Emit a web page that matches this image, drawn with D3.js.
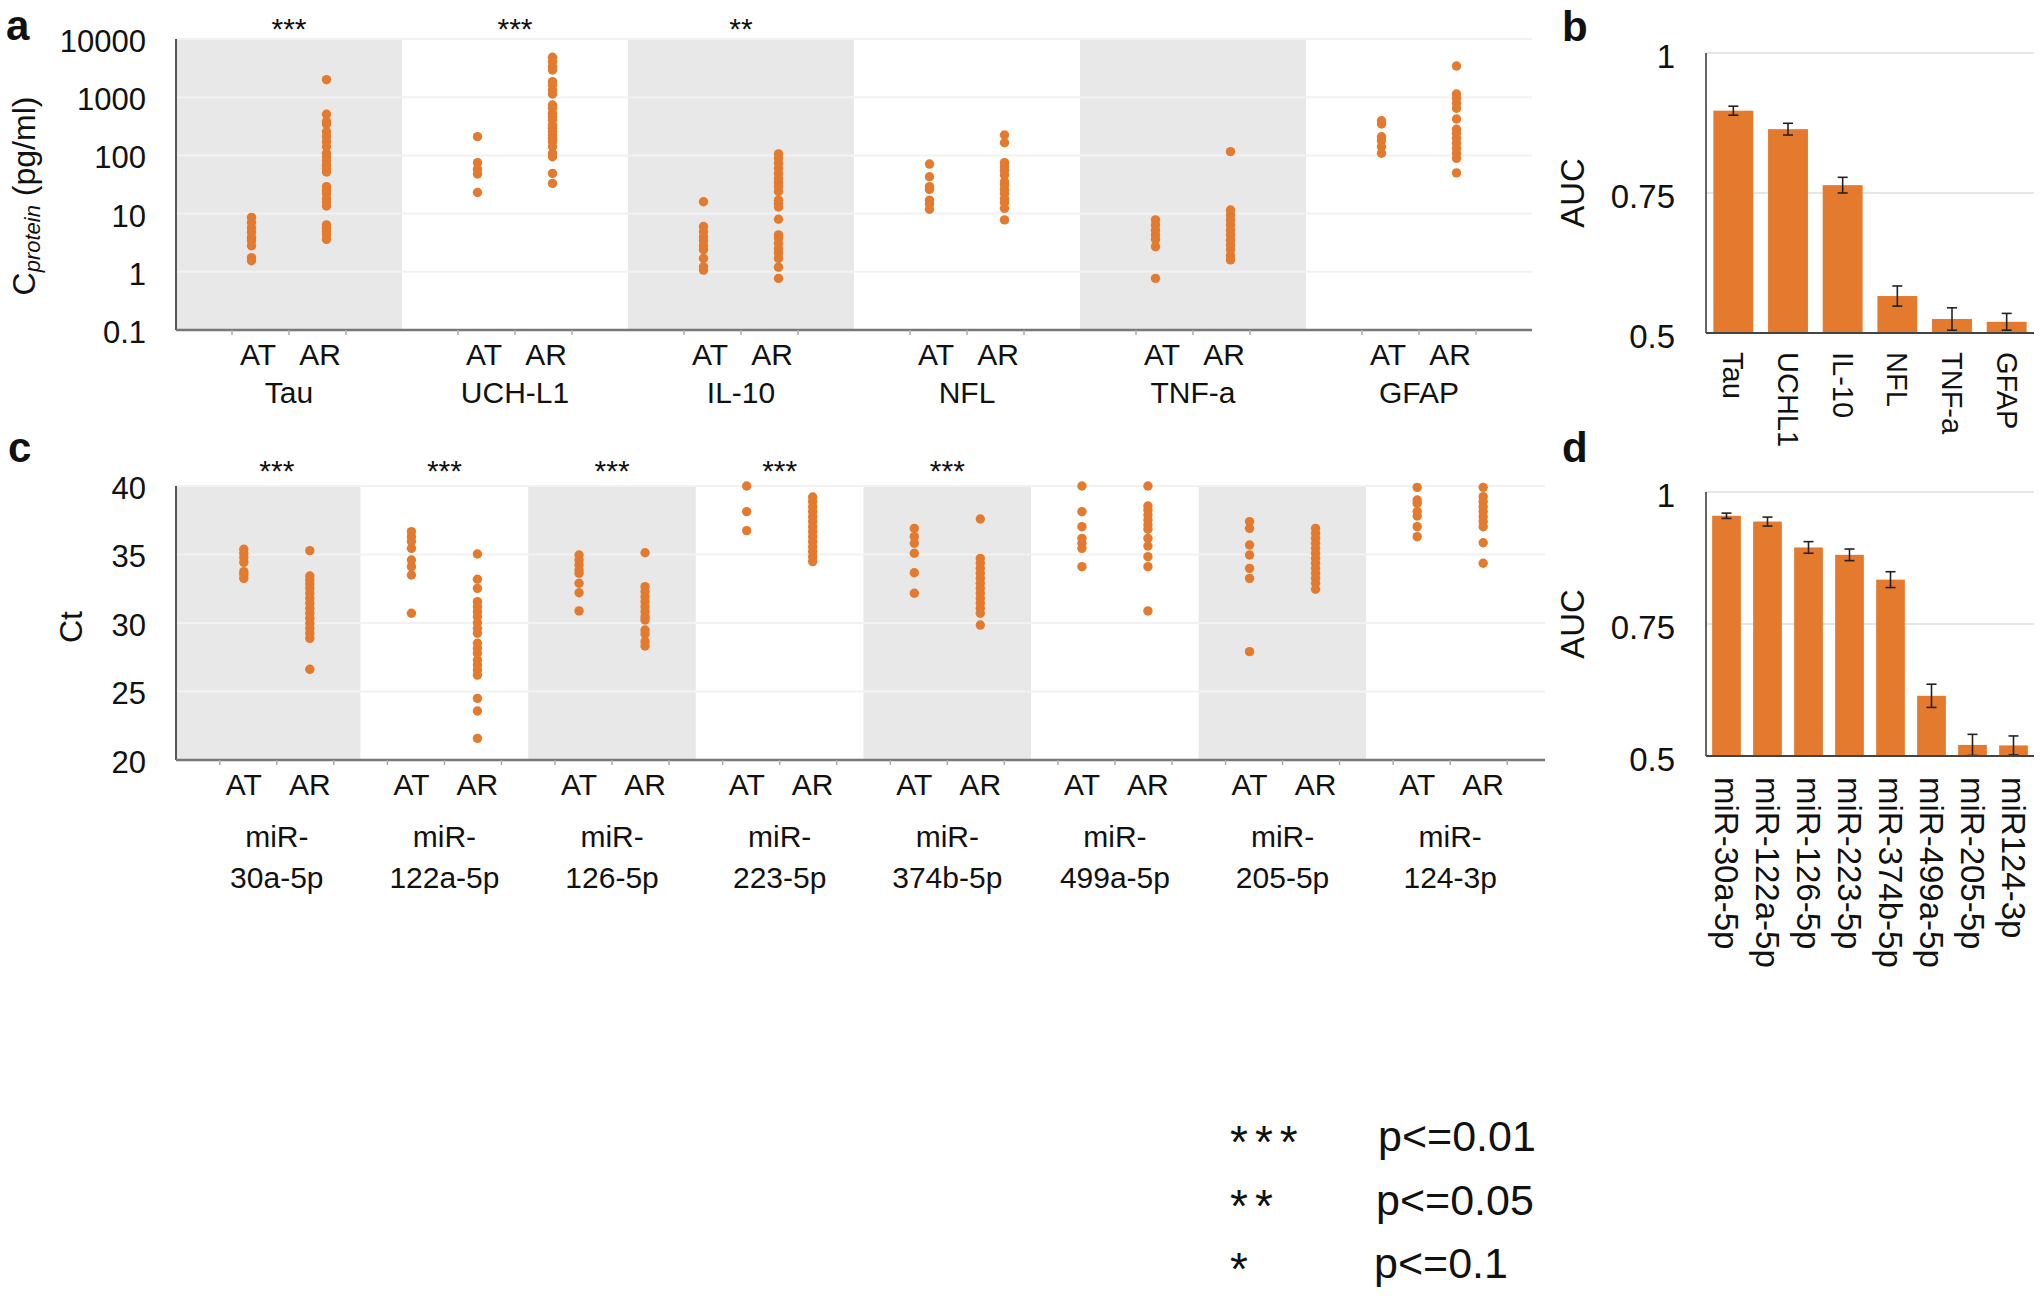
<!DOCTYPE html>
<html>
<head>
<meta charset="utf-8">
<script src="https://cdn.jsdelivr.net/npm/d3@7"></script>
<style>
  body { margin: 0; background: #fff; }
  text { font-family: "Liberation Sans", Arial, Helvetica, sans-serif; fill: #111; }
</style>
</head>
<body>
<div id="vis"></div>
<script>
// ---- panel a: protein concentrations (pg/ml), AT vs AR ----
const proteins = ["Tau", "UCH-L1", "IL-10", "NFL", "TNF-a", "GFAP"];
const proteinSig = ["***", "***", "**", "", "", ""];
const tauAT = [8.6, 7.0, 5.7, 4.8, 3.9, 3.4, 2.8, 1.75, 1.55];
const tauAR = [2000, 510, 380, 345, 255, 210, 172, 141, 109, 95, 81, 68, 60, 52, 29, 25, 22, 18, 16, 13.5, 6.4, 5.6, 4.9, 4.3, 3.6];
const uchAT = [210, 75, 58, 48, 23];
const uchAR = [4850, 4070, 3340, 2930, 1850, 1620, 1330, 1135, 735, 645, 530, 460, 405, 333, 292, 255, 224, 197, 172, 141, 109, 95, 49, 33];
const il10AT = [16, 6.0, 4.9, 4.0, 3.4, 2.8, 2.4, 1.7, 1.22, 1.07];
const il10AR = [106, 89, 73, 60, 49, 40, 34, 29, 24, 17, 15, 13, 8.0, 4.3, 3.8, 3.1, 2.5, 2.1, 1.7, 1.2, 0.77];
const nflAT = [71, 43, 29, 26, 17, 14.6, 11.9];
const nflAR = [224, 165, 75, 64, 55, 46, 35, 31, 26, 22, 18, 15.4, 12.3, 7.8];
const tnfAT = [7.8, 6.4, 5.2, 4.3, 3.6, 2.7, 0.77];
const tnfAR = [116, 11.5, 9.5, 7.8, 6.4, 5.2, 4.3, 3.5, 2.9, 2.4, 1.9, 1.6];
const gfapAT = [394, 347, 209, 179, 141, 109];
const gfapAR = [3440, 1135, 957, 785, 645, 422, 281, 240, 197, 161, 132, 109, 89, 50];
const proteinAT = [tauAT, uchAT, il10AT, nflAT, tnfAT, gfapAT];
const proteinAR = [tauAR, uchAR, il10AR, nflAR, tnfAR, gfapAR];
const aTicks = [0.1, 1, 10, 100, 1000, 10000];
const aTickLabels = ["0.1", "1", "10", "100", "1000", "10000"];

// ---- panel b: AUC for proteins ----
const aucProteinNames = ["Tau", "UCHL1", "IL-10", "NFL", "TNF-a", "GFAP"];
const aucProtein = [0.897, 0.864, 0.764, 0.566, 0.525, 0.520];
const aucProteinErr = [0.008, 0.0105, 0.014, 0.018, 0.02, 0.015];

// ---- panel c: miRNA Ct values, AT vs AR ----
const mirs = ["miR-30a-5p", "miR-122a-5p", "miR-126-5p", "miR-223-5p", "miR-374b-5p", "miR-499a-5p", "miR-205-5p", "miR-124-3p"];
const mirSig = ["***", "***", "***", "***", "***", "", "", ""];
const m30aAT = [35.38, 35.09, 34.77, 34.43, 33.75, 33.55, 33.26];
const m30aAR = [35.28, 33.43, 33.14, 32.85, 32.53, 32.17, 31.8, 31.44, 31.07, 30.71, 30.34, 29.98, 29.61, 29.25, 28.88, 26.62];
const m122aAT = [36.67, 36.3, 35.94, 35.45, 34.6, 34.11, 33.5, 30.71];
const m122aAR = [35.04, 33.19, 32.53, 31.56, 31.19, 30.83, 30.46, 30.02, 29.61, 29.25, 28.52, 28.15, 27.79, 27.3, 26.93, 26.57, 26.2, 24.5, 23.58, 21.58];
const m126AT = [34.96, 34.6, 34.23, 33.87, 33.63, 32.9, 32.21, 30.88];
const m126AR = [35.13, 32.65, 32.29, 31.92, 31.56, 31.19, 30.83, 30.46, 30.22, 29.49, 29.2, 28.64, 28.32];
const m223AT = [40.0, 38.13, 36.74];
const m223AR = [39.2, 38.86, 38.49, 38.13, 37.76, 37.4, 37.03, 36.67, 36.3, 35.94, 35.57, 35.21, 34.84, 34.48];
const m374bAT = [36.91, 36.3, 35.82, 35.09, 33.67, 32.17];
const m374bAR = [37.59, 34.72, 34.36, 33.99, 33.63, 33.26, 32.9, 32.53, 32.17, 31.8, 31.44, 31.07, 30.71, 29.85];
const m499aAT = [40.0, 38.13, 37.03, 36.18, 35.82, 35.45, 34.11];
const m499aAR = [40.0, 38.54, 38.25, 37.88, 37.52, 37.15, 36.84, 36.18, 35.62, 34.84, 34.11, 30.88];
const m205AT = [37.4, 36.91, 35.69, 34.96, 33.99, 33.26, 27.91];
const m205AR = [36.91, 36.55, 36.18, 35.82, 35.45, 35.09, 34.72, 34.36, 33.99, 33.63, 33.26, 32.9, 32.46];
const m124AT = [39.9, 38.98, 38.73, 38.13, 37.81, 37.03, 36.3];
const m124AR = [39.9, 39.22, 38.86, 38.49, 38.13, 37.76, 37.4, 37.03, 35.86, 34.36];
const mirAT = [m30aAT, m122aAT, m126AT, m223AT, m374bAT, m499aAT, m205AT, m124AT];
const mirAR = [m30aAR, m122aAR, m126AR, m223AR, m374bAR, m499aAR, m205AR, m124AR];
const cTicks = [20, 25, 30, 35, 40];

// ---- panel d: AUC for miRNAs ----
const aucMirNames = ["miR-30a-5p", "miR-122a-5p", "miR-126-5p", "miR-223-5p", "miR-374b-5p", "miR-499a-5p", "miR-205-5p", "miR124-3p"];
const aucMir = [0.955, 0.944, 0.895, 0.881, 0.834, 0.614, 0.521, 0.520];
const aucMirErr = [0.005, 0.0085, 0.011, 0.011, 0.015, 0.022, 0.02, 0.018];
const aucTicks = [0.5, 0.75, 1];

// ---- legend ----
const legendStars = ["***", "**", "*"];
const legendText = ["p<=0.01", "p<=0.05", "p<=0.1"];

const ORANGE = "#e47a2e";
const BAND_GRAY = "#e8e8e8";

const svg = d3.select("#vis").append("svg")
    .attr("width", 2040)
    .attr("height", 1298);

svg.append("rect").attr("width", 2040).attr("height", 1298).attr("fill", "#fff");

function panelLetter(txt, x, y) {
    svg.append("text").text(txt)
        .attr("x", x).attr("y", y)
        .attr("font-size", "42px")
        .attr("font-weight", "bold");
}

// strip chart (panels a and c)
function renderStrip(opt) {
    var g = svg.append("g");
    var y = opt.y, xg = opt.xGroup;
    var half = opt.half;
    var n = opt.cats.length;

    // alternating bands, first and last stretched to the axis ends
    g.selectAll("rect.band")
        .data(opt.cats)
        .enter()
        .append("rect")
        .attr("x", function (d, i) { return i == 0 ? opt.left : xg(d); })
        .attr("y", opt.top)
        .attr("width", function (d, i) {
            var x0 = i == 0 ? opt.left : xg(d);
            var x1 = i == n - 1 ? opt.right : xg(d) + xg.bandwidth();
            return x1 - x0;
        })
        .attr("height", opt.bottom - opt.top)
        .attr("fill", function (d, i) { return i % 2 == 0 ? BAND_GRAY : "#fff"; });

    // gridlines
    g.selectAll("line.grid")
        .data(opt.ticks)
        .enter()
        .append("line")
        .attr("x1", opt.left).attr("x2", opt.right)
        .attr("y1", function (d) { return y(d); })
        .attr("y2", function (d) { return y(d); })
        .attr("stroke", "#f2f2f2")
        .attr("stroke-width", 2);

    // y axis labels
    var axis = d3.axisLeft(y)
        .tickValues(opt.ticks)
        .tickSize(0)
        .tickPadding(opt.left - 146)
        .tickFormat(function (d, i) { return opt.tickLabels[i]; });
    var ag = g.append("g").attr("transform", "translate(" + opt.left + ",0)").call(axis);
    ag.select(".domain").remove();
    ag.selectAll("text")
        .attr("font-size", "31px")
        .attr("font-family", "Liberation Sans, Arial, sans-serif")
        .attr("fill", "#111")
        .attr("dy", "0.4em");

    // axis lines
    g.append("line")
        .attr("x1", opt.left).attr("x2", opt.left)
        .attr("y1", opt.top).attr("y2", opt.bottom)
        .attr("stroke", "#555").attr("stroke-width", 2);
    g.append("line")
        .attr("x1", opt.left).attr("x2", opt.right)
        .attr("y1", opt.bottom).attr("y2", opt.bottom)
        .attr("stroke", "#777").attr("stroke-width", 2.5);

    // small x ticks
    var tickOffsets = [-57, 0, 57];
    opt.cats.forEach(function (c) {
        var cx = xg(c) + xg.bandwidth() / 2;
        tickOffsets.forEach(function (o) {
            g.append("line")
                .attr("x1", cx + o).attr("x2", cx + o)
                .attr("y1", opt.bottom).attr("y2", opt.bottom + 5)
                .attr("stroke", "#aaa").attr("stroke-width", 1.5);
        });
    });

    // points
    opt.cats.forEach(function (c, i) {
        var cx = xg(c) + xg.bandwidth() / 2;
        [[opt.at[i], cx - half], [opt.ar[i], cx + half]].forEach(function (pair) {
            g.append("g").selectAll("circle")
                .data(pair[0])
                .enter()
                .append("circle")
                .attr("cx", pair[1])
                .attr("cy", function (d) { return y(d); })
                .attr("r", 4.7)
                .attr("fill", ORANGE);
        });

        // AT / AR labels
        g.append("text").text("AT")
            .attr("x", cx - opt.labelHalf).attr("y", opt.groupY)
            .attr("text-anchor", "middle").attr("font-size", "30px");
        g.append("text").text("AR")
            .attr("x", cx + opt.labelHalf).attr("y", opt.groupY)
            .attr("text-anchor", "middle").attr("font-size", "30px");

        // category name
        var lines = opt.nameLines(c);
        lines.forEach(function (ln, k) {
            g.append("text").text(ln)
                .attr("x", cx).attr("y", opt.nameY + k * opt.nameStep)
                .attr("text-anchor", "middle").attr("font-size", "30px");
        });

        // significance
        if (opt.sig[i]) {
            g.append("text").text(opt.sig[i])
                .attr("x", cx).attr("y", opt.sigY)
                .attr("text-anchor", "middle").attr("font-size", "30px");
        }
    });
}

// bar chart with error bars (panels b and d)
function renderBars(opt) {
    var g = svg.append("g");
    var x = opt.x, y = opt.y;

    g.selectAll("line.grid")
        .data(aucTicks.slice(1))
        .enter()
        .append("line")
        .attr("x1", opt.left).attr("x2", opt.right)
        .attr("y1", function (d) { return y(d); })
        .attr("y2", function (d) { return y(d); })
        .attr("stroke", "#e6e6e6")
        .attr("stroke-width", 2);

    var axis = d3.axisLeft(y)
        .tickValues(aucTicks)
        .tickSize(0)
        .tickPadding(31)
        .tickFormat(function (d) { return d == 1 ? "1" : String(d); });
    var ag = g.append("g").attr("transform", "translate(" + opt.left + ",0)").call(axis);
    ag.select(".domain").remove();
    ag.selectAll("text")
        .attr("font-size", "33px")
        .attr("font-family", "Liberation Sans, Arial, sans-serif")
        .attr("fill", "#111")
        .attr("dy", "0.45em");

    g.selectAll("rect.bar")
        .data(opt.values)
        .enter()
        .append("rect")
        .attr("x", function (d, i) { return x(opt.names[i]); })
        .attr("y", function (d) { return y(d); })
        .attr("width", x.bandwidth())
        .attr("height", function (d) { return y(0.5) - y(d); })
        .attr("fill", ORANGE);

    // error bars
    var eg = g.append("g").attr("stroke", "#222").attr("stroke-width", 1.6);
    opt.values.forEach(function (v, i) {
        var cx = x(opt.names[i]) + x.bandwidth() / 2;
        var e = opt.err[i];
        eg.append("line").attr("x1", cx).attr("x2", cx).attr("y1", y(v + e)).attr("y2", y(v - e));
        eg.append("line").attr("x1", cx - 5).attr("x2", cx + 5).attr("y1", y(v + e)).attr("y2", y(v + e));
        eg.append("line").attr("x1", cx - 5).attr("x2", cx + 5).attr("y1", y(v - e)).attr("y2", y(v - e));
    });

    g.append("line")
        .attr("x1", opt.left).attr("x2", opt.left)
        .attr("y1", y(1)).attr("y2", y(0.5))
        .attr("stroke", "#666").attr("stroke-width", 2);
    g.append("line")
        .attr("x1", opt.left).attr("x2", opt.right)
        .attr("y1", y(0.5)).attr("y2", y(0.5))
        .attr("stroke", "#444").attr("stroke-width", 2);

    // rotated category labels
    opt.names.forEach(function (n) {
        var cx = x(n) + x.bandwidth() / 2;
        g.append("text").text(n)
            .attr("transform", "translate(" + cx + "," + (y(0.5) + opt.labelGap) + ") rotate(90)")
            .attr("dy", "0.35em")
            .attr("font-size", opt.labelSize);
    });

    g.append("text").text("AUC")
        .attr("transform", "translate(" + 1572 + "," + opt.aucY + ") rotate(-90)")
        .attr("text-anchor", "middle")
        .attr("dy", "0.35em")
        .attr("font-size", "33px");
}

// ---- panel a ----
var yA = d3.scaleLog().domain([0.1, 10000]).range([330, 39]);
var xA = d3.scaleBand().domain(proteins).range([176, 1532]);
renderStrip({
    cats: proteins, y: yA, xGroup: xA,
    top: 39, bottom: 330, left: 176, right: 1532,
    ticks: aTicks, tickLabels: aTickLabels,
    at: proteinAT, ar: proteinAR, half: 37.5, labelHalf: 31,
    groupY: 365, nameY: 403, nameStep: 40,
    nameLines: function (c) { return [c]; },
    sig: proteinSig, sigY: 39
});

// y label with subscript
var aLabel = svg.append("text")
    .attr("transform", "translate(35,196) rotate(-90)")
    .attr("text-anchor", "middle")
    .attr("font-size", "32px");
aLabel.append("tspan").text("C");
aLabel.append("tspan").text("protein").attr("font-style", "italic").attr("font-size", "22px").attr("dy", "5");
aLabel.append("tspan").text(" (pg/ml)").attr("dy", "-5");

// ---- panel c ----
var yC = d3.scaleLinear().domain([20, 40]).range([760, 486]);
var xC = d3.scaleBand().domain(mirs).range([193, 1534]);
renderStrip({
    cats: mirs, y: yC, xGroup: xC,
    top: 486, bottom: 760, left: 176, right: 1545,
    ticks: cTicks, tickLabels: cTicks.map(String),
    at: mirAT, ar: mirAR, half: 33, labelHalf: 33,
    groupY: 795, nameY: 847, nameStep: 41,
    nameLines: function (c) { return ["miR-", c.slice(4)]; },
    sig: mirSig, sigY: 481
});

svg.append("text").text("Ct")
    .attr("transform", "translate(71,627) rotate(-90)")
    .attr("text-anchor", "middle")
    .attr("dy", "0.35em")
    .attr("font-size", "32px");

// ---- panel b ----
var xB = d3.scaleBand().domain(aucProteinNames).range([1706, 2034]).paddingInner(0.27).paddingOuter(0.135);
var yB = d3.scaleLinear().domain([0.5, 1]).range([333, 53]);
renderBars({
    x: xB, y: yB, names: aucProteinNames, values: aucProtein, err: aucProteinErr,
    left: 1706, right: 2034, labelGap: 19, labelSize: "29px", aucY: 193
});

// ---- panel d ----
var xD = d3.scaleBand().domain(aucMirNames).range([1706, 2034]).paddingInner(0.3).paddingOuter(0.15);
var yD = d3.scaleLinear().domain([0.5, 1]).range([756, 492]);
renderBars({
    x: xD, y: yD, names: aucMirNames, values: aucMir, err: aucMirErr,
    left: 1706, right: 2034, labelGap: 21, labelSize: "33px", aucY: 624
});

panelLetter("a", 6, 40);
panelLetter("b", 1562, 41);
panelLetter("c", 8, 462);
panelLetter("d", 1562, 462);

// ---- legend ----
var lg = svg.append("g");
legendStars.forEach(function (s, i) {
    lg.append("text").text(s)
        .attr("x", 1230).attr("y", 1158 + i * 63.5)
        .attr("font-family", "Noto Sans, Open Sans, sans-serif")
        .attr("font-size", "46px")
        .attr("letter-spacing", "7px");
    lg.append("text").text(legendText[i])
        .attr("x", 1378 - i * 2).attr("y", 1151 + i * 63.5)
        .attr("font-family", "Noto Sans, Open Sans, sans-serif")
        .attr("font-size", "43px");
});
</script>
</body>
</html>
